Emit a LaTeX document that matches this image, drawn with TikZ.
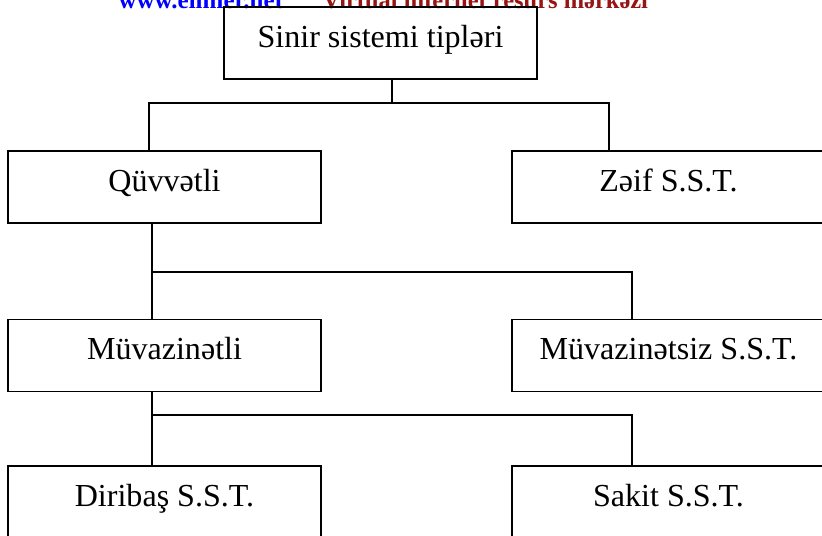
\documentclass[tikz,border=0pt]{standalone}
\usepackage{fontspec}
\setmainfont{Liberation Serif}
\usepackage{tikz}
\definecolor{wmred}{RGB}{150,20,20}

\begin{document}
\begin{tikzpicture}[x=0.025cm,y=-0.025cm,line width=0.8pt,
  sbox/.style={draw,rectangle,minimum width=7.825cm,minimum height=1.8cm,inner sep=0pt,
    text height=0.45cm,text depth=0.25cm,font=\fontsize{22.8}{27}\selectfont}]
\useasboundingbox (0,0) rectangle (822,535);
\clip (0,0) rectangle (822,535);
\node[anchor=base west,inner sep=0pt,font=\bfseries\fontsize{17.8}{20}\selectfont,text=blue] (wa) at (118,8) {www.elmler.net};
\node[anchor=base west,inner sep=0pt,font=\bfseries\fontsize{17.4}{20}\selectfont,text=wmred] (wb) at (322,8) {Virtual internet resurs mərkəzi};
\node[sbox] (top) at (380.5,43) {Sinir sistemi tipləri};
\node[sbox] (q) at (164.5,187) {Qüvvətli};
\node[sbox] (z) at (668.5,187) {Zəif S.S.T.};
\node[sbox] (m) at (164.5,355.5) {Müvazinətli};
\node[sbox] (mz) at (668.5,355.5) {Müvazinətsiz S.S.T.};
\node[sbox] (d) at (164.5,502) {Diribaş S.S.T.};
\node[sbox] (s) at (668.5,502) {Sakit S.S.T.};
\coordinate (a0) at (392,103);
\coordinate (a1) at (149,103);
\coordinate (a2) at (609,103);
\draw (top.south -| a0) -- (a0);
\draw (q.north -| a1) -- (a1) -- (a2) -- (z.north -| a2);
\coordinate (b1) at (152,272);
\coordinate (b2) at (632,272);
\draw (q.south -| b1) -- (m.north -| b1);
\draw (b1) -- (b2) -- (mz.north -| b2);
\coordinate (c1) at (152,415);
\coordinate (c2) at (632,415);
\draw (m.south -| c1) -- (d.north -| c1);
\draw (c1) -- (c2) -- (s.north -| c2);
\end{tikzpicture}
\end{document}
